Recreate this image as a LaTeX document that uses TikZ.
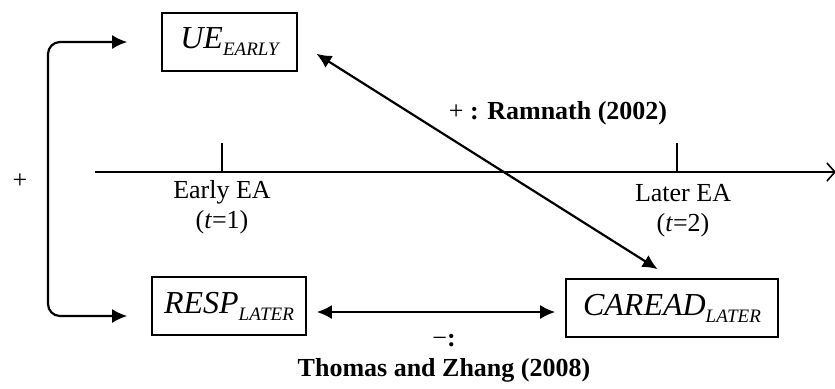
\documentclass[tikz,border=0pt]{standalone}
\usepackage{fontspec}
\setmainfont{Liberation Serif}
\usetikzlibrary{positioning, arrows.meta}
\tikzset{>={Latex[length=7.5pt, width=7pt]}}
\tikzset{
    varbox/.style={draw, line width=0.8pt, minimum height=29pt, inner sep=0pt},
    link/.style={line width=1.1pt},
    lab/.style={inner sep=0pt, align=center, font=\fontsize{13}{14.8}\selectfont}
}
\newcommand{\varsub}[2]{{\fontsize{16}{18}\selectfont\itshape #1}\raisebox{-3.5pt}{\fontsize{9.5}{11}\selectfont\itshape #2}}

\begin{document}
\begin{tikzpicture}[x=0.5pt, y=-0.5pt]
    \useasboundingbox (0,0) rectangle (835,388);

    % variables
    \node[varbox, minimum width=67.5pt] (ue) at (229.5,42) {\varsub{UE}{EARLY}};
    \node[varbox, minimum width=77pt] (resp) at (229,306) {\varsub{RESP}{LATER}};
    \node[varbox, minimum width=106pt] (caread) at (672,308) {\varsub{CAREAD}{LATER}};

    % time line
    \coordinate (tl0) at (95,172);
    \coordinate (tl1) at (836,172);
    \coordinate (t1) at (222,172);
    \coordinate (t2) at (677,172);
    \draw[line width=0.8pt, -{Straight Barb[length=4pt, width=9pt]}] (tl0) -- (tl1);
    \draw[line width=0.8pt] (t1) -- ++(0,-29);
    \draw[line width=0.8pt] (t2) -- ++(0,-29);
    \node[lab, below=4pt of t1] (early) {Early EA\\(\textit{t}=1)};
    \node[lab, below=6pt of t2, xshift=3pt] (later) {Later EA\\(\textit{t}=2)};

    % links
    \coordinate (brk) at (48,180);
    \draw[link, <->, rounded corners=6pt] ([xshift=-17pt]ue.west) -| (brk) |- ([xshift=-12pt, yshift=-5pt]resp.west);
    \node[lab] (plus) at (20,181) {+};

    \draw[link, <->, shorten <=11pt, shorten >=8.5pt] (ue.east) -- (caread.north);
    \node[lab] (ramnath) at (558,113) {+ \textbf{: Ramnath (2002)}};

    \draw[link, <->, shorten <=5pt, shorten >=5pt] ([yshift=-3pt]resp.east) -- ([yshift=-3pt]resp.east -| caread.west);
    \node[lab, font=\fontsize{13}{15}\selectfont] (thomas) at (444,358) {−\textbf{:}\\\textbf{Thomas and Zhang (2008)}};
\end{tikzpicture}
\end{document}
